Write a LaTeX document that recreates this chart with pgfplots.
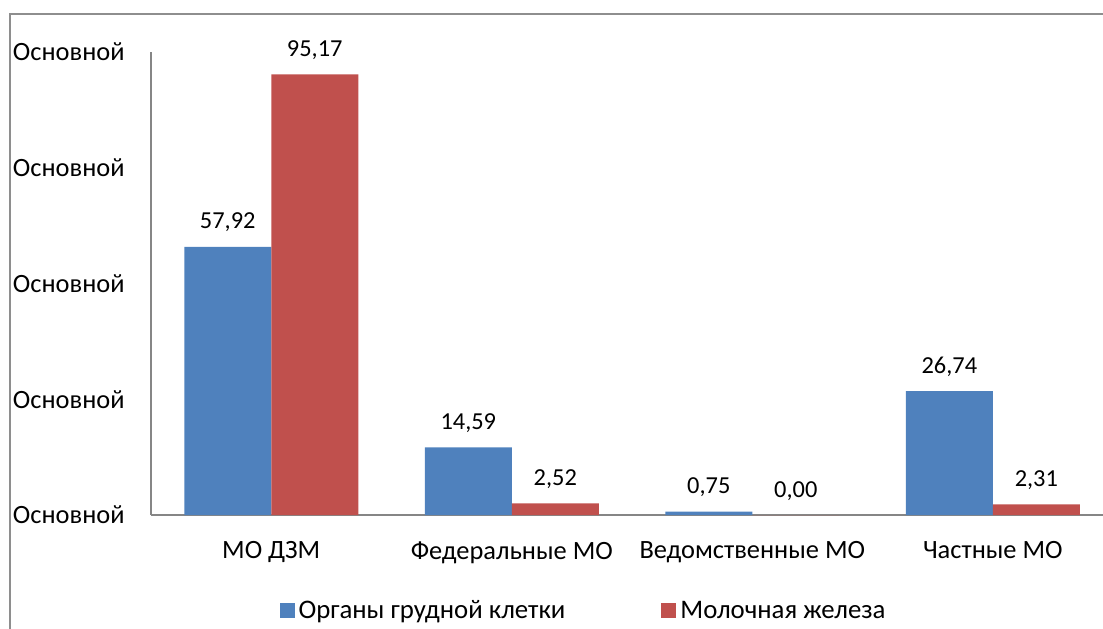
\documentclass[border=0pt]{standalone}
\usepackage{pgfplots}
\pgfplotsset{compat=1.18}
\usepackage{fontspec}
\setmainfont{Carlito}
\definecolor{cblue}{HTML}{4F81BD}
\definecolor{cred}{HTML}{C0504D}
\definecolor{axgray}{HTML}{868686}
\definecolor{framegray}{HTML}{8E8E8E}
\begin{document}
\begin{tikzpicture}
\useasboundingbox (0pt,0pt) rectangle (551.5pt,314pt);
\draw[framegray, line width=1.2pt] (5pt,-3pt) -- (5pt,307pt) -- (555pt,307pt);
\begin{axis}[
  at={(75.5pt,56.5pt)}, anchor=south west,
  scale only axis, width=476pt, height=231.5pt,
  xmin=-0.5, xmax=3.458, ymin=0, ymax=100,
  ybar=0pt, bar width=43.5pt,
  axis x line*=bottom, axis y line*=left,
  axis line style={draw=axgray, line width=1pt, -},
  major tick length=0pt,
  ytick={0,25,50,75,100},
  yticklabels={Основной,Основной,Основной,Основной,Основной},
  xtick={0,1,2,3},
  xticklabels={МО ДЗМ,Федеральные МО,Ведомственные МО,Частные МО},
  tick label style={font=\fontsize{13.2}{15}\selectfont, inner sep=0pt},
  yticklabel style={anchor=east, xshift=-13pt},
  xticklabel style={anchor=north, yshift=-13.2pt},
  /pgf/number format/.cd, fixed, fixed zerofill, precision=2, use comma, assume math mode=true,
  /pgfplots/.cd,
  nodes near coords,
  every node near coord/.append style={font=\fontsize{12.2}{15}\selectfont, inner sep=0pt, anchor=base, yshift=9pt, text=black},
  legend style={at={(0.4554,-0.2073)}, anchor=center, draw=none, fill=none,
    legend columns=2, font=\fontsize{13.4}{15}\selectfont,
    /tikz/every even column/.append style={column sep=46pt}},
  legend image code/.code={\fill[#1] (0pt,-3.75pt) rectangle (7.5pt,3.75pt);},
]
\addplot[fill=cblue, draw=none] coordinates {(0,57.92) (1,14.59) (2,0.75) (3,26.74)};
\addplot[fill=cred, draw=none] coordinates {(0,95.17) (1,2.52) (2,0.00) (3,2.31)};
\legend{Органы грудной клетки, Молочная железа}
\end{axis}
\end{tikzpicture}
\end{document}
